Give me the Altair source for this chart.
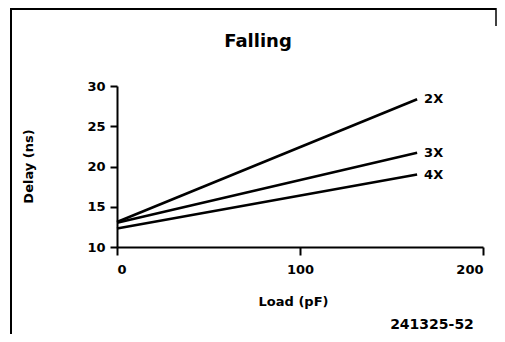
import altair as alt
import pandas as pd

series = ["2X", "3X", "4X"]
load_pf = [0, 164]
delay_2x = [13.1, 28.35]
delay_3x = [13.0, 21.7]
delay_4x = [12.3, 19.0]
x_ticks = [0, 100, 200]
y_ticks = [10, 15, 20, 25, 30]

rows = []
for name, vals in zip(series, [delay_2x, delay_3x, delay_4x]):
    for x, y in zip(load_pf, vals):
        rows.append({"series": name, "load": x, "delay": y})
df = pd.DataFrame(rows)
ends = df[df["load"] == load_pf[-1]]

FONT = "DejaVu Sans"
W, H = 366, 161
PL, PT = 109, 78
TW, TH = 489, 326

xs = alt.X("load:Q", scale=alt.Scale(domain=[0, 200], nice=False),
           axis=alt.Axis(values=x_ticks, title="Load (pF)", grid=False,
                         domainColor="black", domainWidth=2, tickColor="black",
                         tickWidth=2, tickSize=8, labelPadding=8,
                         labelFont=FONT, labelFontSize=13, labelFontWeight="bold",
                         labelColor="black", titleFont=FONT, titleFontSize=13,
                         titleFontWeight="bold", titleColor="black",
                         titleX=176, titleY=54, titleBaseline="middle",
                         titleAnchor="middle"))
ys = alt.Y("delay:Q", scale=alt.Scale(domain=[10, 30], nice=False),
           axis=alt.Axis(values=y_ticks, title="Delay (ns)", grid=False,
                         domainColor="black", domainWidth=2, tickColor="black",
                         tickWidth=2, tickSize=7, labelPadding=5,
                         labelFont=FONT, labelFontSize=13, labelFontWeight="bold",
                         labelColor="black", titleFont=FONT, titleFontSize=13,
                         titleFontWeight="bold", titleColor="black",
                         titleX=-89, titleY=80, titleAngle=270,
                         titleBaseline="middle", titleAnchor="middle"))

lines = alt.Chart(df).mark_line(color="black", strokeWidth=2.6).encode(
    x=xs, y=ys, detail="series:N")

labels = alt.Chart(ends).mark_text(
    align="left", baseline="middle", dx=7, font=FONT, fontSize=13,
    fontWeight="bold", color="black").encode(
    x="load:Q", y="delay:Q", text="series:N")

one = pd.DataFrame({"k": [0]})
frame_left = alt.Chart(one).mark_rule(color="black", strokeWidth=2).encode(
    x=alt.value(-106), y=alt.value(-78), y2=alt.value(TH - PT))
frame_top = alt.Chart(one).mark_rule(color="black", strokeWidth=2).encode(
    x=alt.value(-106), x2=alt.value(TW - PL - 1), y=alt.value(-77))
frame_right = alt.Chart(one).mark_rule(color="black", strokeWidth=1.5).encode(
    x=alt.value(TW - PL - 1), y=alt.value(-78), y2=alt.value(-60))

title_txt = alt.Chart(pd.DataFrame({"t": ["Falling"]})).mark_text(
    font=FONT, fontSize=18, fontWeight="bold", color="black",
    align="center", baseline="middle").encode(
    x=alt.value(141), y=alt.value(-44), text="t:N")
fig_id = alt.Chart(pd.DataFrame({"t": ["241325-52"]})).mark_text(
    font=FONT, fontSize=14, fontWeight="bold", color="black",
    align="center", baseline="middle").encode(
    x=alt.value(315), y=alt.value(239), text="t:N")

chart = alt.layer(lines, labels, frame_left, frame_top, frame_right, title_txt, fig_id).properties(
    width=W, height=H,
    autosize=alt.AutoSizeParams(type="none"),
    padding={"left": PL, "top": PT, "right": TW - PL - W, "bottom": TH - PT - H},
).configure(background="white", view=alt.ViewConfig(stroke=None))

chart.save("out.html", embed_options={"renderer": "svg", "actions": False})
